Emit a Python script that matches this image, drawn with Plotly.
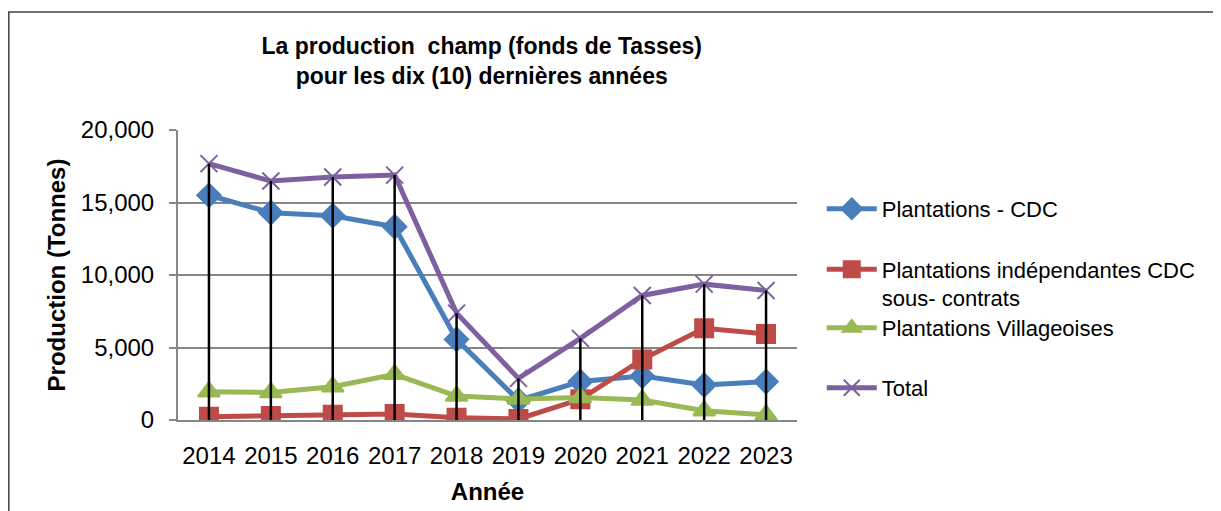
import plotly.graph_objects as go

annees = ["2014", "2015", "2016", "2017", "2018", "2019", "2020", "2021", "2022", "2023"]

plantations_cdc = [15500, 14300, 14090, 13330, 5560, 1350, 2650, 3030, 2410, 2650]
independantes_cdc = [230, 280, 370, 410, 160, 70, 1430, 4180, 6320, 5930]
villageoises = [1950, 1900, 2300, 3150, 1650, 1450, 1550, 1380, 640, 350]
total = [17680, 16480, 16760, 16890, 7370, 2870, 5630, 8590, 9370, 8930]

noms = ["Plantations - CDC",
        "Plantations indépendantes CDC<br>sous- contrats",
        "Plantations Villageoises",
        "Total"]

police = "Liberation Sans"

fig = go.Figure()

# the four series, Excel 2007 colours, each one in its own legend box
series = [
  (plantations_cdc, noms[0], "#4A7EBB", "diamond", 18, "legend"),
  (independantes_cdc, noms[1], "#BE4B48", "square", 18, "legend2"),
  (villageoises, noms[2], "#98B954", "triangle-up", 19, "legend3"),
  (total, noms[3], "#7D60A0", "x-thin", 17, "legend4"),
]
for vals, nom, couleur, symbole, taille, leg in series:
  fig.add_trace(go.Scatter(
    x=annees, y=vals, name=nom, mode="lines+markers",
    line=dict(color=couleur, width=5),
    marker=dict(symbol=symbole, size=taille, color=couleur,
                line=dict(color=couleur, width=2)),
    legend=leg
  ))

# drop lines from the highest point down to the axis
xs, ys = [], []
for a, t in zip(annees, total):
  xs += [a, a, None]
  ys += [0, t, None]
fig.add_trace(go.Scatter(x=xs, y=ys, mode="lines", showlegend=False,
                         line=dict(color="black", width=2.5), hoverinfo="skip"))

def boite(y):
  return dict(x=1.040, y=y, xanchor="left", yanchor="middle",
              font=dict(family=police, size=22), valign="top",
              itemwidth=50, bgcolor="rgba(0,0,0,0)")

# page is drawn with an 8px body margin, so the plot box sits at 170..789 x 122..412
fig.update_layout(
  width=1221, height=511,
  margin=dict(l=170, r=432, t=122, b=99),
  paper_bgcolor="white", plot_bgcolor="white",
  font=dict(family=police, size=24, color="black"),
  title=dict(text="<b>La production  champ (fonds de Tasses)<br>pour les dix (10) dernières années</b>",
             x=0.388, xanchor="center", y=0.910, yanchor="top",
             font=dict(family=police, size=23)),
  showlegend=True,
  legend=boite(0.7276),
  legend2=boite(0.469),
  legend3=boite(0.3172),
  legend4=boite(0.1103),
  xaxis=dict(title=dict(text="<b>Année</b>", font=dict(size=24), standoff=15),
             range=[-0.5, len(annees) - 0.5],
             showline=True, linecolor="#868686", linewidth=2, showgrid=False,
             ticks="", tickfont=dict(size=24), ticklabelstandoff=13),
  yaxis=dict(title=dict(text="<b>Production (Tonnes)</b>", font=dict(size=24), standoff=8),
             range=[0, 20000], dtick=5000, tickformat=",",
             showline=True, linecolor="#868686", linewidth=2,
             showgrid=True, gridcolor="#868686", gridwidth=2,
             ticks="outside", ticklen=7, tickcolor="#868686", tickwidth=2,
             tickfont=dict(size=24), ticklabelstandoff=10, zeroline=False),
  shapes=[dict(type="rect", xref="paper", yref="paper",
               x0=(8.8 - 178) / 619, x1=(1240 - 178) / 619,
               y0=(420 - 530) / 290, y1=(420 - 12) / 290,
               line=dict(color="#404040", width=1.5), layer="below")]
)

fig.write_html("out.html")
